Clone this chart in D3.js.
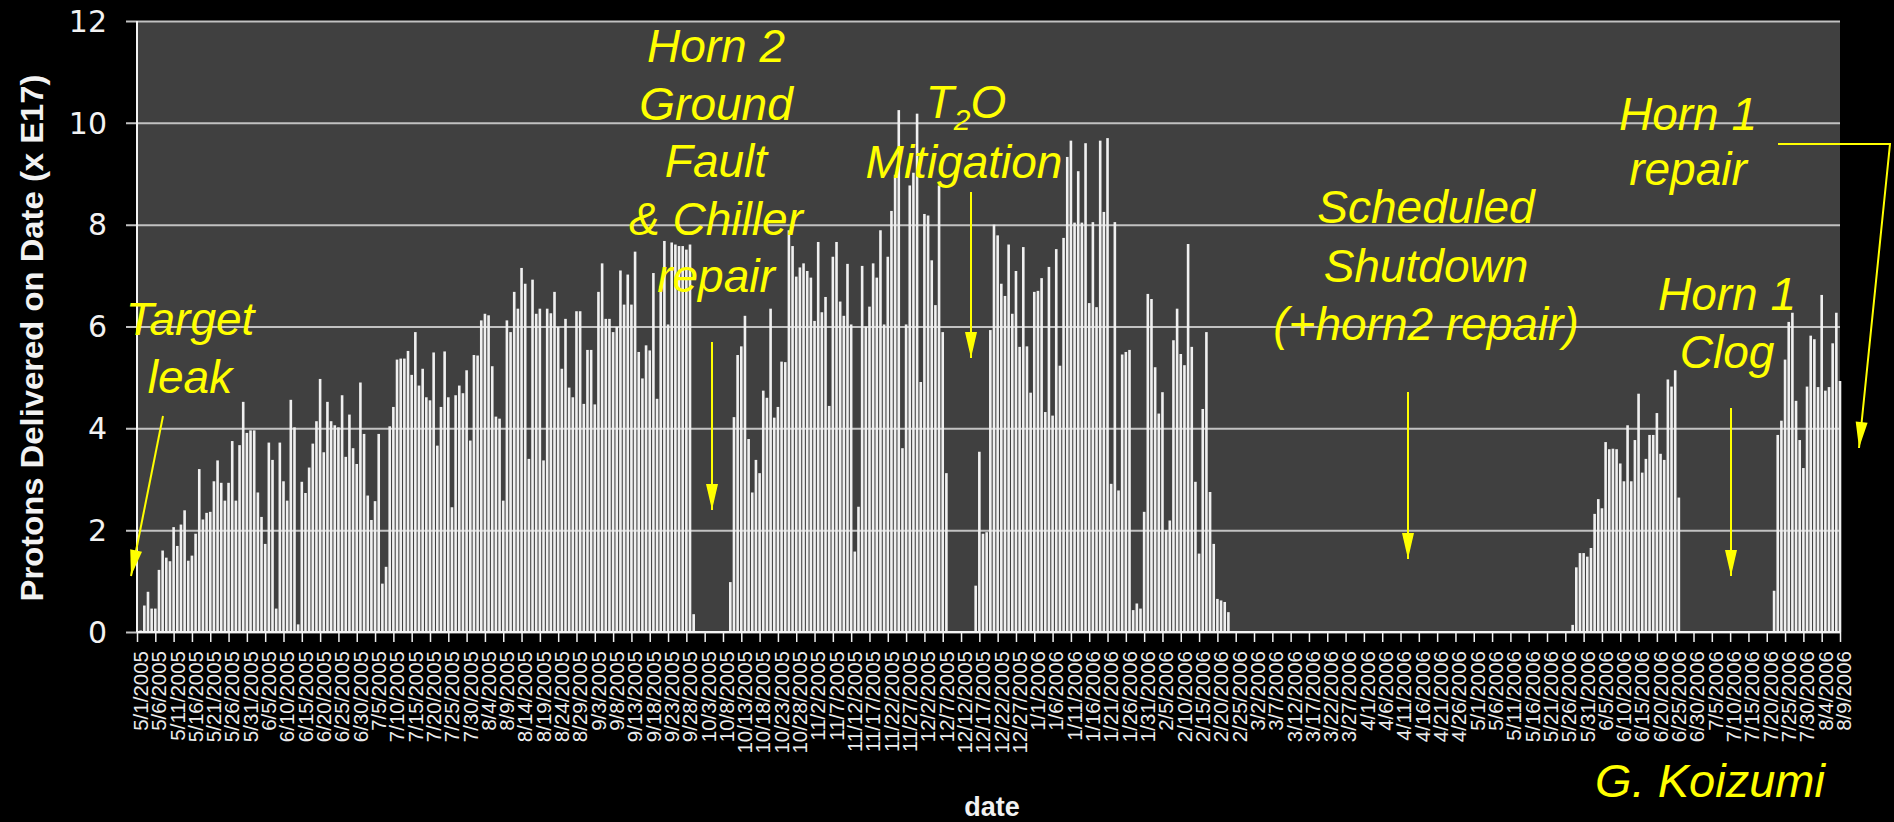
<!DOCTYPE html>
<html>
<head>
<meta charset="utf-8">
<script src="https://cdn.jsdelivr.net/npm/d3@7"></script>
<style>
  html, body { margin: 0; padding: 0; background: #000; }
  svg { display: block; }
</style>
</head>
<body>
<svg id="chart" width="1894" height="822"></svg>
<script>
// ---- data -------------------------------------------------------------
// one bar per calendar day, 5/1/2005 .. 8/9/2006
const firstDay = [2005, 4, 1];
const lastDay = [2006, 7, 9];
const labelStep = 5;               // a date label every 5 days
const yTickValues = [0, 2, 4, 6, 8, 10, 12];

// protons delivered per day (x E17)
const protonsPerDay = [
  0, 0.03, 0.52, 0.79, 0.46, 0.46, 1.22, 1.6, 1.46, 1.39,
  2.06, 1.69, 2.11, 2.39, 1.4, 1.5, 1.93, 3.2, 2.21, 2.34,
  2.36, 2.96, 3.37, 2.93, 2.58, 2.93, 3.75, 2.58, 3.67, 4.52,
  3.91, 3.96, 3.96, 2.74, 2.26, 1.73, 3.72, 3.38, 0.46, 3.72,
  2.96, 2.58, 4.56, 4.02, 0.15, 2.95, 2.73, 3.23, 3.7, 4.14,
  4.97, 3.53, 4.52, 4.14, 4.06, 4.02, 4.65, 3.44, 4.27, 3.61,
  3.3, 4.9, 3.89, 2.68, 2.2, 2.57, 3.89, 0.95, 1.28, 4.04,
  4.42, 5.35, 5.37, 5.37, 5.52, 5.05, 5.89, 4.84, 5.17, 4.61,
  4.55, 5.49, 3.66, 4.42, 5.51, 4.61, 2.45, 4.65, 4.84, 4.69,
  5.14, 3.76, 5.44, 5.43, 6.12, 6.25, 6.22, 5.22, 4.23, 4.19,
  2.58, 6.12, 5.89, 6.68, 6.35, 7.15, 6.84, 3.4, 6.92, 6.25,
  6.35, 3.37, 6.35, 6.26, 6.68, 5.99, 5.17, 6.15, 4.8, 4.61,
  6.3, 6.3, 4.48, 5.54, 5.54, 4.47, 6.68, 7.24, 6.15, 6.15,
  5.89, 5.99, 7.1, 6.43, 7.02, 6.43, 7.47, 5.5, 4.98, 5.63,
  5.53, 7.05, 4.58, 6.8, 7.68, 6.04, 7.65, 7.61, 7.58, 7.58,
  7.51, 7.61, 0.35, 0, 0, 0, 0, 0, 0, 0,
  0, 0, 0.98, 4.22, 5.44, 5.61, 6.21, 3.79, 2.74, 3.38,
  3.12, 4.74, 4.6, 6.35, 4.21, 4.42, 5.31, 5.3, 7.89, 7.58,
  6.98, 7.16, 7.24, 7.09, 6.96, 6.11, 7.66, 6.28, 6.58, 4.44,
  7.37, 7.66, 6.49, 6.21, 7.23, 6.04, 1.58, 2.46, 7.19, 6.0,
  6.39, 7.24, 6.96, 7.89, 6.04, 7.37, 8.27, 8.98, 10.25, 3.61,
  6.04, 8.77, 9.02, 10.18, 4.91, 8.21, 8.18, 7.3, 6.42, 8.77,
  5.89, 3.12, 0, 0, 0, 0, 0, 0, 0, 0.91,
  3.54, 1.93, 1.96, 5.93, 8.0, 7.79, 6.84, 6.6, 7.61, 6.25,
  7.09, 5.6, 7.56, 5.61, 4.7, 6.68, 6.7, 6.95, 4.32, 7.17,
  4.25, 7.52, 5.23, 7.74, 9.33, 9.65, 8.04, 9.05, 8.04, 9.6,
  6.46, 8.05, 6.38, 9.65, 8.25, 9.7, 2.91, 8.05, 2.78, 5.45,
  5.5, 5.54, 0.43, 0.56, 0.46, 2.36, 6.64, 6.54, 5.2, 4.29,
  4.71, 2.0, 2.19, 5.73, 6.35, 5.46, 5.24, 7.62, 5.6, 2.95,
  1.54, 4.38, 5.89, 2.75, 1.73, 0.65, 0.62, 0.59, 0.39, 0,
  0, 0, 0, 0, 0, 0, 0, 0, 0, 0,
  0, 0, 0, 0, 0, 0, 0, 0, 0, 0,
  0, 0, 0, 0, 0, 0, 0, 0, 0, 0,
  0, 0, 0, 0, 0, 0, 0, 0, 0, 0,
  0, 0, 0, 0, 0, 0, 0, 0, 0, 0,
  0, 0, 0, 0, 0, 0, 0, 0, 0, 0,
  0, 0, 0, 0, 0, 0, 0, 0, 0, 0,
  0, 0, 0, 0, 0, 0, 0, 0, 0, 0,
  0, 0, 0, 0, 0, 0, 0, 0, 0, 0,
  0, 0, 0.14, 1.27, 1.55, 1.55, 1.48, 1.65, 2.32, 2.61,
  2.43, 3.73, 3.59, 3.6, 3.59, 3.31, 2.96, 4.06, 2.96, 3.77,
  4.68, 3.13, 3.4, 3.87, 3.87, 4.3, 3.5, 3.38, 4.96, 4.82,
  5.14, 2.64, 0, 0, 0, 0, 0, 0, 0, 0,
  0, 0, 0, 0, 0, 0, 0, 0, 0, 0,
  0, 0, 0, 0, 0, 0, 0, 0.81, 3.87, 4.15,
  5.35, 6.09, 6.27, 4.54, 3.77, 3.22, 4.82, 5.82, 5.75, 4.81,
  6.62, 4.74, 4.81, 5.67, 6.27, 4.93
];

// annotation text, one entry per line
const noteTarget = ["Target", "leak"];
const noteHorn2 = ["Horn 2", "Ground", "Fault", "& Chiller", "repair"];
const noteT2O = ["Mitigation"];
const noteShutdown = ["Scheduled", "Shutdown", "(+horn2 repair)"];
const noteHorn1Repair = ["Horn 1", "repair"];
const noteHorn1Clog = ["Horn 1", "Clog"];
const author = "G. Koizumi";

// ---- layout -----------------------------------------------------------
const plot = { left: 137, right: 1840, top: 21, bottom: 632 };
const yellow = "#ffff00";
const noteFont = "'Liberation Sans', Arial, sans-serif";

const svg = d3.select("#chart");
svg.append("rect").attr("width", 1894).attr("height", 822).attr("fill", "#000");

const days = d3.utcDay.range(
  new Date(Date.UTC(...firstDay)),
  d3.utcDay.offset(new Date(Date.UTC(...lastDay)), 1)
);
const series = days.map((d, i) => ({ date: d, value: protonsPerDay[i] }));

const x = d3.scalePoint().domain(days).range([plot.left, plot.right]);
const y = d3.scaleLinear().domain([0, 12]).range([plot.bottom, plot.top]);

// plot background
svg.append("rect")
  .attr("x", plot.left).attr("y", plot.top)
  .attr("width", plot.right - plot.left).attr("height", plot.bottom - plot.top)
  .attr("fill", "#404040");

// horizontal grid lines + y ticks
const yAxis = svg.append("g")
  .attr("transform", `translate(${plot.left},0)`)
  .call(d3.axisLeft(y).tickValues(yTickValues).tickSize(-(plot.right - plot.left)).tickFormat(""));
yAxis.select(".domain").remove();
yAxis.selectAll(".tick line")
  .attr("x1", -11)
  .attr("stroke", "#c2c2c2").attr("stroke-width", 2);

// bars
const bw = 2.6;
svg.append("g").selectAll("rect")
  .data(series.filter(d => d.value > 0))
  .join("rect")
  .attr("x", d => x(d.date) - bw / 2)
  .attr("width", bw)
  .attr("y", d => y(d.value))
  .attr("height", d => y(0) - y(d.value))
  .attr("fill", "#f0f0f0");

// y axis line and labels
svg.append("line")
  .attr("x1", plot.left).attr("x2", plot.left)
  .attr("y1", plot.top).attr("y2", plot.bottom)
  .attr("stroke", "#f4f4f4").attr("stroke-width", 2);
svg.append("g").selectAll("text")
  .data(yTickValues)
  .join("text")
  .attr("x", 107).attr("y", d => y(d))
  .attr("dy", "0.36em")
  .attr("text-anchor", "end")
  .attr("font-family", "'DejaVu Sans', sans-serif")
  .attr("font-size", 30)
  .attr("fill", "#f2f2f2")
  .text(d => d);

svg.append("text")
  .attr("transform", `translate(43,338) rotate(-90)`)
  .attr("text-anchor", "middle")
  .attr("font-family", "'Liberation Sans', Arial, sans-serif")
  .attr("font-weight", "bold")
  .attr("font-size", 31)
  .attr("textLength", 527)
  .attr("lengthAdjust", "spacingAndGlyphs")
  .attr("fill", "#f2f2f2")
  .text("Protons Delivered on Date (x E17)");

// x axis: ticks and vertical date labels every 5 days
const labelDays = days.filter((d, i) => i % labelStep === 0);
const fmt = d3.utcFormat("%-m/%-d/%Y");
const xAxis = svg.append("g")
  .attr("transform", `translate(0,${plot.bottom})`)
  .call(d3.axisBottom(x).tickValues(labelDays).tickSize(10).tickFormat(fmt));
xAxis.select(".domain")
  .attr("stroke", "#f4f4f4").attr("stroke-width", 2)
  .attr("d", `M${plot.left},0H${plot.right}`);
xAxis.selectAll(".tick line").attr("stroke", "#f0f0f0").attr("stroke-width", 1.5);
xAxis.selectAll(".tick text")
  .attr("transform", "translate(3,19) rotate(-90)")
  .attr("x", 0).attr("y", 0).attr("dy", "0.36em")
  .attr("text-anchor", "end")
  .attr("font-family", "'Liberation Sans', Arial, sans-serif")
  .attr("font-size", 20.5)
  .attr("fill", "#ececec");

svg.append("text")
  .attr("x", 992).attr("y", 816)
  .attr("text-anchor", "middle")
  .attr("font-family", "'Liberation Sans', Arial, sans-serif")
  .attr("font-weight", "bold")
  .attr("font-size", 27)
  .attr("fill", "#f2f2f2")
  .text("date");

// ---- annotations --------------------------------------------------------
function noteBlock(lines, cx, baseline, gap) {
  svg.append("g").selectAll("text")
    .data(lines)
    .join("text")
    .attr("x", cx).attr("y", (d, i) => baseline + i * gap)
    .attr("text-anchor", "middle")
    .attr("font-family", noteFont)
    .attr("font-style", "italic")
    .attr("font-size", 46)
    .attr("fill", yellow)
    .text(d => d);
}

function arrow(points) {
  svg.append("polyline")
    .attr("points", points.map(p => p.join(",")).join(" "))
    .attr("fill", "none").attr("stroke", yellow).attr("stroke-width", 2);
  const [x1, y1] = points[points.length - 2];
  const [x2, y2] = points[points.length - 1];
  const a = Math.atan2(y2 - y1, x2 - x1);
  const len = 26, half = 6;
  const bx = x2 - len * Math.cos(a), by = y2 - len * Math.sin(a);
  const px = -Math.sin(a) * half, py = Math.cos(a) * half;
  svg.append("polygon")
    .attr("points", `${x2},${y2} ${bx + px},${by + py} ${bx - px},${by - py}`)
    .attr("fill", yellow);
}

noteBlock(noteTarget, 190, 335, 58);
noteBlock(noteHorn2, 716, 62, 57.5);
noteBlock(noteShutdown, 1426, 223, 58.5);
noteBlock(noteHorn1Repair, 1688, 130, 55);
noteBlock(noteHorn1Clog, 1727, 310, 58);
noteBlock(noteT2O, 964, 178, 58);

// T2O with subscript 2
const t2o = svg.append("text")
  .attr("x", 966).attr("y", 118)
  .attr("text-anchor", "middle")
  .attr("font-family", noteFont)
  .attr("font-style", "italic")
  .attr("font-size", 46)
  .attr("fill", yellow);
t2o.append("tspan").text("T");
t2o.append("tspan").attr("font-size", 30).attr("dy", 12).text("2");
t2o.append("tspan").attr("dy", -12).text("O");

svg.append("text")
  .attr("x", 1710).attr("y", 797)
  .attr("text-anchor", "middle")
  .attr("font-family", noteFont)
  .attr("font-style", "italic")
  .attr("font-size", 47)
  .attr("fill", yellow)
  .text(author);

arrow([[163, 416], [131, 576]]);
arrow([[712, 342], [712, 510]]);
arrow([[971, 192], [971, 358]]);
arrow([[1408, 392], [1408, 559]]);
arrow([[1731, 408], [1731, 576]]);
arrow([[1778, 144], [1890, 144], [1859, 448]]);
</script>
</body>
</html>
